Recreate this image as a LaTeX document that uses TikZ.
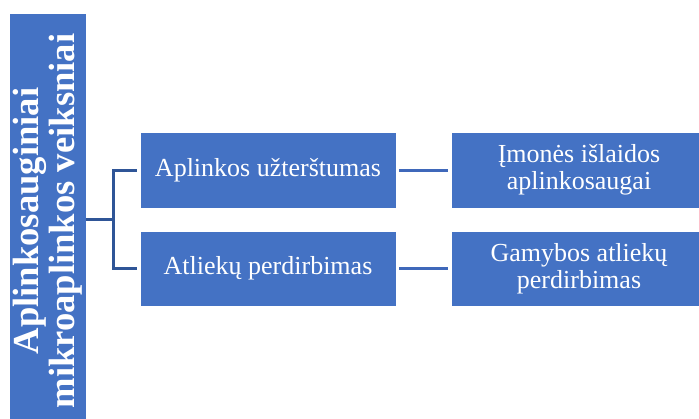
\documentclass[tikz,border=0pt]{standalone}
\usepackage{fontspec}
\setmainfont{Liberation Serif}
\usepackage{tikz}
\usetikzlibrary{positioning}
\definecolor{boxblue}{HTML}{4472C4}
\definecolor{linkblue}{HTML}{2F5597}
\definecolor{lineblue}{HTML}{3F68BA}
\tikzstyle{factorbox} = [rectangle, fill=boxblue, draw=white, line width=0.6pt, text=white, align=center, inner sep=0pt]
\tikzstyle{link} = [draw=linkblue, line width=3pt]
\tikzstyle{sublink} = [draw=lineblue, line width=3pt, shorten <=3pt, shorten >=3pt]

\begin{document}
\begin{tikzpicture}[x=1pt, y=-1pt]
      \useasboundingbox (0,0) rectangle (699,418);
      % Nodes
      \node[factorbox, rotate=90, minimum width=416, minimum height=76.5, font=\fontsize{36.6}{36}\selectfont\bfseries] (factors) at (47.75,221) {Aplinkosauginiai\\mikroaplinkos veiksniai};
      \node[factorbox, minimum width=256, minimum height=76, font=\fontsize{26}{27}\selectfont] (pollution) at (268,170) {Aplinkos užterštumas};
      \node[factorbox, minimum width=256, minimum height=75, font=\fontsize{26}{27}\selectfont] (recycling) at (268,268.5) {Atliekų perdirbimas};
      \node[factorbox, minimum width=256, minimum height=76, font=\fontsize{26}{27.5}\selectfont] (costs) at (579,170) {Įmonės išlaidos\\aplinkosaugai};
      \node[factorbox, minimum width=256, minimum height=75, font=\fontsize{26}{27.5}\selectfont] (production) at (579,268.5) {Gamybos atliekų\\perdirbimas};
      \coordinate (fork) at (113,219);

      % Edges
      \draw[link] (factors.south |- fork) -- (fork);
      \draw[link, shorten >=3pt] (fork) |- (pollution.west);
      \draw[link, shorten >=3pt] (fork) |- (recycling.west);
      \draw[sublink] (pollution) -- (costs);
      \draw[sublink] (recycling) -- (production);
  \end{tikzpicture}
\end{document}
